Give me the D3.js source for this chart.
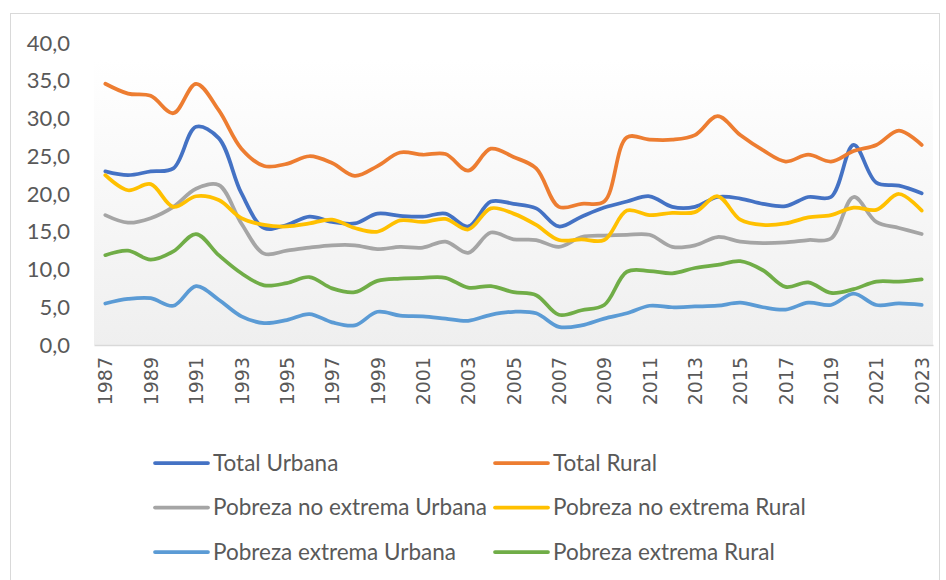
<!DOCTYPE html>
<html>
<head>
<meta charset="utf-8">
<script src="https://cdn.jsdelivr.net/npm/d3@7"></script>
<style>
  body { margin: 0; background: #fff; }
  svg { display: block; }
</style>
</head>
<body>
<div id="chart"></div>
<script>
const years = d3.range(1987, 2024);

const totalUrbana = [23.0, 22.5, 23.0, 23.4, 28.9, 27.4, 20.1, 15.5, 15.9, 17.0, 16.3, 16.1, 17.4, 17.1, 17.0, 17.4, 15.7, 19.0, 18.7, 18.1, 15.7, 17.0, 18.2, 19.0, 19.7, 18.3, 18.3, 19.6, 19.4, 18.7, 18.4, 19.6, 19.6, 26.5, 21.5, 21.1, 20.1];
const totalRural = [34.6, 33.3, 33.0, 30.7, 34.6, 31.1, 26.0, 23.7, 24.0, 25.0, 24.1, 22.4, 23.7, 25.5, 25.2, 25.3, 23.1, 26.0, 24.9, 23.4, 18.3, 18.7, 19.0, 27.5, 27.2, 27.2, 27.8, 30.3, 27.8, 25.8, 24.3, 25.2, 24.3, 25.7, 26.5, 28.4, 26.5];
const noExtUrbana = [17.2, 16.2, 16.8, 18.3, 20.7, 21.2, 16.1, 12.1, 12.5, 12.9, 13.2, 13.2, 12.7, 13.0, 12.9, 13.7, 12.2, 14.9, 14.0, 13.9, 13.0, 14.3, 14.5, 14.6, 14.6, 13.0, 13.2, 14.3, 13.7, 13.5, 13.6, 13.9, 14.1, 19.6, 16.3, 15.5, 14.7];
const noExtRural = [22.5, 20.5, 21.3, 18.3, 19.7, 19.2, 16.8, 15.9, 15.7, 16.1, 16.6, 15.5, 15.0, 16.5, 16.3, 16.7, 15.3, 18.1, 17.4, 15.9, 13.9, 14.0, 13.9, 17.8, 17.2, 17.5, 17.6, 19.7, 16.6, 15.9, 16.1, 16.9, 17.2, 18.2, 17.9, 20.0, 17.8];
const extUrbana = [5.5, 6.1, 6.2, 5.2, 7.8, 6.0, 3.8, 2.9, 3.3, 4.1, 3.0, 2.6, 4.4, 3.9, 3.8, 3.5, 3.2, 4.0, 4.4, 4.2, 2.4, 2.6, 3.5, 4.2, 5.2, 5.0, 5.1, 5.2, 5.6, 5.0, 4.7, 5.6, 5.3, 6.8, 5.3, 5.5, 5.3];
const extRural = [11.9, 12.5, 11.3, 12.4, 14.7, 11.9, 9.5, 7.9, 8.2, 9.0, 7.5, 7.0, 8.5, 8.8, 8.9, 8.9, 7.6, 7.8, 7.0, 6.6, 4.0, 4.6, 5.3, 9.7, 9.8, 9.5, 10.2, 10.6, 11.1, 9.9, 7.7, 8.3, 6.9, 7.4, 8.4, 8.4, 8.7];

const seriesNames = ["Total Urbana", "Total Rural", "Pobreza no extrema Urbana", "Pobreza no extrema Rural", "Pobreza extrema Urbana", "Pobreza extrema Rural"];
const seriesValues = [totalUrbana, totalRural, noExtUrbana, noExtRural, extUrbana, extRural];
const seriesColors = ["#4472C4", "#ED7D31", "#A5A5A5", "#FFC000", "#5B9BD5", "#70AD47"];
const yTicks = [0, 5, 10, 15, 20, 25, 30, 35, 40];

const width = 946, height = 580;
const plot = { left: 94, right: 933, top: 43, bottom: 345 };

const svg = d3.select("#chart").append("svg")
  .attr("width", width)
  .attr("height", height);

// chart frame
svg.append("rect")
  .attr("x", 10.5).attr("y", 13.5)
  .attr("width", 929).attr("height", 600)
  .attr("fill", "#fff")
  .attr("stroke", "#d9d9d9");

const defs = svg.append("defs");
const grad = defs.append("linearGradient")
  .attr("id", "plotbg")
  .attr("x1", 0).attr("y1", 0).attr("x2", 0).attr("y2", 1);
grad.append("stop").attr("offset", "0%").attr("stop-color", "#ffffff");
grad.append("stop").attr("offset", "100%").attr("stop-color", "#efefef");

svg.append("rect")
  .attr("x", plot.left).attr("y", plot.top + 17)
  .attr("width", plot.right - plot.left)
  .attr("height", plot.bottom - plot.top - 17)
  .attr("fill", "url(#plotbg)");

const x = d3.scalePoint()
  .domain(years)
  .range([plot.left, plot.right])
  .padding(0.5);

const y = d3.scaleLinear()
  .domain([0, 40])
  .range([plot.bottom, plot.top]);

// y axis labels
const yAxis = svg.append("g")
  .attr("transform", `translate(${plot.left},0)`)
  .call(d3.axisLeft(y).tickValues(yTicks).tickSize(0).tickPadding(24)
    .tickFormat(d => d3.format(".1f")(d).replace(".", ",")));
yAxis.select(".domain").remove();
yAxis.selectAll("text")
  .attr("fill", "#595959")
  .style("font-family", "Lato, 'Liberation Sans', sans-serif")
  .style("font-size", "22px");

// x axis
const xAxis = svg.append("g")
  .attr("transform", `translate(0,${plot.bottom})`)
  .call(d3.axisBottom(x).tickValues(years.filter(d => (d - 1987) % 2 === 0)).tickSize(0).tickPadding(0));
xAxis.select(".domain")
  .attr("stroke", "#d9d9d9")
  .attr("stroke-width", 1.5);
xAxis.selectAll("text")
  .attr("fill", "#595959")
  .attr("transform", "rotate(-90)")
  .attr("text-anchor", "end")
  .attr("x", -12)
  .attr("y", 0)
  .attr("dy", "0.35em")
  .style("font-family", "'DejaVu Sans', sans-serif")
  .style("font-size", "19px");

// lines
const line = d3.line()
  .x((d, i) => x(years[i]))
  .y(d => y(d))
  .curve(d3.curveCatmullRom.alpha(0.5));

svg.append("g")
  .selectAll("path")
  .data(seriesValues)
  .join("path")
  .attr("d", d => line(d))
  .attr("fill", "none")
  .attr("stroke", (d, i) => seriesColors[i])
  .attr("stroke-width", 3.75)
  .attr("stroke-linejoin", "round")
  .attr("stroke-linecap", "round");

// legend
const legend = svg.append("g");
const legendItems = legend.selectAll("g")
  .data(seriesNames)
  .join("g")
  .attr("transform", (d, i) => `translate(${i % 2 === 0 ? 155 : 495},${463 + Math.floor(i / 2) * 44.5})`);

legendItems.append("line")
  .attr("x1", 0).attr("x2", 53)
  .attr("stroke", (d, i) => seriesColors[i])
  .attr("stroke-width", 3.75)
  .attr("stroke-linecap", "round");

legendItems.append("text")
  .attr("x", 58)
  .attr("dy", "0.35em")
  .attr("fill", "#595959")
  .style("font-family", "Lato, 'Liberation Sans', sans-serif")
  .style("font-size", "22.5px")
  .text(d => d);
</script>
</body>
</html>
